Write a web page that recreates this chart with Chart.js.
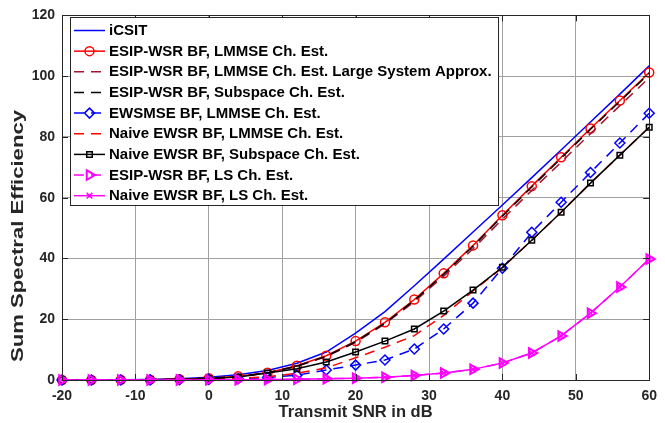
<!DOCTYPE html>
<html><head><meta charset="utf-8">
<script src="https://cdn.jsdelivr.net/npm/chart.js@4.4.0/dist/chart.umd.min.js"></script>
<style>html,body{margin:0;padding:0;background:#fff;}#wrap{width:665px;height:423px;}</style>
</head><body><div id="wrap"><canvas id="c" width="665" height="423"></canvas></div>
<script>
// ---- data ----
const snrDb = [-20,-16,-12,-8,-4,0,4,8,12,16,20,24,28,32,36,40,44,48,52,56,60];
const xTicks = [-20,-10,0,10,20,30,40,50,60];
const yTicks = [0,20,40,60,80,100,120];
const xTitle = 'Transmit SNR in dB';
const yTitle = 'Sum Spectral Efficiency';
const seriesNames = [
  'iCSIT',
  'ESIP-WSR BF, LMMSE Ch. Est.',
  'ESIP-WSR BF, LMMSE Ch. Est. Large System Approx.',
  'ESIP-WSR BF, Subspace Ch. Est.',
  'EWSMSE BF, LMMSE Ch. Est.',
  'Naive EWSR BF, LMMSE Ch. Est.',
  'Naive EWSR BF, Subspace Ch. Est.',
  'ESIP-WSR BF, LS Ch. Est.',
  'Naive EWSR BF, LS Ch. Est.'
];
const iCSIT        = [0.02,0.05,0.1,0.2,0.45,0.9,1.7,3.1,5.5,9.2,15.4,22.5,31.0,39.8,48.7,57.6,66.6,75.7,84.9,94.1,103.4];
const esipLmmse    = [0.01,0.02,0.05,0.12,0.28,0.6,1.2,2.4,4.7,8.0,12.8,19.0,26.5,35.1,44.3,54.2,63.8,73.3,82.8,92.0,101.2];
const esipLarge    = [0.01,0.02,0.05,0.12,0.27,0.58,1.15,2.3,4.5,7.7,12.4,18.5,25.8,34.2,43.2,52.9,62.4,71.7,81.1,90.3,99.5];
const esipSubspace = [0.01,0.02,0.05,0.12,0.27,0.58,1.15,2.35,4.6,7.8,12.6,18.7,26.2,34.8,44.0,53.9,63.5,73.0,82.5,91.7,100.9];
const ewsmse       = [0,0,0.01,0.03,0.08,0.2,0.4,0.8,1.6,3.3,4.9,6.6,10.2,16.8,25.3,36.8,48.6,58.5,68.3,78.0,87.8];
const naiveLmmse   = [0,0.01,0.03,0.07,0.15,0.3,0.55,1.1,2.2,4.0,7.3,10.8,14.6,21.3,29.3,37.0,46.0,55.2,64.8,74.0,83.2];
const naiveSubspace= [0,0.01,0.03,0.08,0.2,0.45,1.0,2.3,3.7,5.9,9.2,12.8,16.8,22.7,29.6,37.1,46.0,55.2,64.8,74.0,83.2];
const esipLs       = [0,0,0,0.01,0.02,0.04,0.08,0.15,0.25,0.4,0.6,0.9,1.5,2.3,3.5,5.6,8.9,14.5,22.0,30.6,39.8];
const naiveLs      = [0,0,0,0.01,0.02,0.04,0.08,0.15,0.25,0.4,0.6,0.9,1.5,2.3,3.5,5.6,8.9,14.5,22.0,30.6,39.8];

const FONT = '"Liberation Sans", Arial, Helvetica, sans-serif';
const TXT = '#262626';
const DASH = [10,7];

const styles = [
  {c:'#0000ff', dash:[], ps:false},
  {c:'#ff0000', dash:[], ps:'circle', r:4.5, bw:1.5},
  {c:'#a2142f', dash:DASH, ps:false},
  {c:'#000000', dash:DASH, ps:false},
  {c:'#0000ff', dash:DASH, ps:'rectRot', r:5, bw:1.5},
  {c:'#ff0000', dash:DASH, ps:false},
  {c:'#000000', dash:[], ps:'rect', r:3.9, bw:1.5},
  {c:'#ff00ff', dash:DASH, ps:'triangle', r:5.5, rot:90, bw:2},
  {c:'#ff00ff', dash:[], ps:'crossRot', r:4, bw:1.5}
];
const values = [iCSIT, esipLmmse, esipLarge, esipSubspace, ewsmse, naiveLmmse, naiveSubspace, esipLs, naiveLs];

const datasets = values.map((v,i)=>{
  const s = styles[i];
  return {
    label: seriesNames[i],
    data: snrDb.map((x,k)=>({x:x, y:v[k]})),
    borderColor: s.c,
    backgroundColor: 'rgba(0,0,0,0)',
    borderWidth: 1.5,
    borderDash: s.dash,
    pointStyle: s.ps || 'circle',
    pointRadius: s.ps ? s.r : 0,
    pointRotation: s.rot || 0,
    pointBorderColor: s.c,
    pointBackgroundColor: 'rgba(0,0,0,0)',
    pointBorderWidth: s.bw || 1.5,
    tension: 0,
    fill: false,
    clip: false,
    order: values.length - i
  };
});

function drawMarker(ctx, style, x, y, r, color, bw) {
  ctx.save();
  ctx.strokeStyle = color; ctx.lineWidth = bw; ctx.setLineDash([]);
  ctx.beginPath();
  if (style === 'circle') {
    ctx.arc(x, y, r, 0, Math.PI*2);
  } else if (style === 'rectRot') {
    ctx.moveTo(x, y-r); ctx.lineTo(x+r, y); ctx.lineTo(x, y+r); ctx.lineTo(x-r, y); ctx.closePath();
  } else if (style === 'rect') {
    const h = r*Math.SQRT1_2; ctx.rect(x-h, y-h, 2*h, 2*h);
  } else if (style === 'triangle') {
    const a = r; ctx.moveTo(x+a, y); ctx.lineTo(x - a*0.5, y - a*0.866); ctx.lineTo(x - a*0.5, y + a*0.866); ctx.closePath();
  } else if (style === 'crossRot') {
    const h = r*Math.SQRT1_2; ctx.moveTo(x-h,y-h); ctx.lineTo(x+h,y+h); ctx.moveTo(x+h,y-h); ctx.lineTo(x-h,y+h);
  }
  ctx.stroke();
  ctx.restore();
}

const frame = {
  id: 'frame',
  afterDraw(chart) {
    const {ctx, chartArea:a, scales} = chart;
    ctx.save();
    ctx.strokeStyle = TXT; ctx.lineWidth = 1; ctx.setLineDash([]);
    ctx.strokeRect(Math.round(a.left)+0.5, Math.round(a.top)+0.5, Math.round(a.right-a.left), Math.round(a.bottom-a.top));
    ctx.beginPath();
    xTicks.forEach(t=>{
      const px = Math.round(scales.x.getPixelForValue(t))+0.5;
      ctx.moveTo(px, a.bottom); ctx.lineTo(px, a.bottom-6);
      ctx.moveTo(px, a.top); ctx.lineTo(px, a.top+6);
    });
    yTicks.forEach(t=>{
      const py = Math.round(scales.y.getPixelForValue(t))+0.5;
      ctx.moveTo(a.left, py); ctx.lineTo(a.left+6, py);
      ctx.moveTo(a.right, py); ctx.lineTo(a.right-6, py);
    });
    ctx.stroke();
    // y-axis title (stretched along its length as in the reference)
    ctx.save();
    ctx.translate(19, 236);
    ctx.rotate(-Math.PI/2);
    ctx.font = 'bold 16px ' + FONT;
    const tw = ctx.measureText(yTitle).width;
    ctx.scale(252 / tw, 1);
    ctx.fillStyle = TXT; ctx.textAlign = 'center'; ctx.textBaseline = 'middle';
    ctx.fillText(yTitle, 0, 0);
    ctx.restore();
    // legend
    const x0=70, y0=17, w=428, h=188;
    ctx.fillStyle = '#ffffff'; ctx.fillRect(x0, y0, w, h);
    ctx.strokeStyle = TXT; ctx.lineWidth = 1;
    ctx.strokeRect(x0+0.5, y0+0.5, w, h);
    chart.data.datasets.forEach((ds,i)=>{
      const y = 30.5 + i*20.65;
      const s = styles[i];
      ctx.save();
      ctx.strokeStyle = s.c; ctx.lineWidth = 1.5; ctx.setLineDash(s.dash);
      ctx.beginPath(); ctx.moveTo(74, y); ctx.lineTo(105, y); ctx.stroke();
      ctx.restore();
      if (s.ps) drawMarker(ctx, s.ps, 89.5, y, s.r, s.c, s.bw);
      ctx.fillStyle = '#000000';
      ctx.font = 'bold 15px ' + FONT;
      ctx.textBaseline = 'middle'; ctx.textAlign = 'left';
      ctx.fillText(ds.label, 109, y+0.5);
    });
    ctx.restore();
  }
};

new Chart(document.getElementById('c'), {
  type: 'line',
  data: { datasets },
  options: {
    responsive: false, animation: false, devicePixelRatio: 1,
    layout: { padding: { top: 15, right: 15, left: 0, bottom: 0 } },
    plugins: { legend: { display: false }, tooltip: { enabled: false } },
    scales: {
      x: {
        type: 'linear', min: -20, max: 60,
        afterFit(s) { s.height = 43; },
        afterBuildTicks(s) { s.ticks = xTicks.map(v=>({value:v})); },
        ticks: { color: TXT, padding: 8, font: { family: FONT, size: 14, weight: 'bold' } },
        grid: { color: '#a0a0a0', lineWidth: 1, drawTicks: false },
        border: { display: true, color: TXT, width: 1 },
        title: { display: true, text: xTitle, color: TXT, padding: {top:0, bottom:1},
                 font: { family: FONT, size: 16.5, weight: 'bold' } }
      },
      y: {
        type: 'linear', min: 0, max: 120,
        afterFit(s) { s.width = 62; },
        afterBuildTicks(s) { s.ticks = yTicks.map(v=>({value:v})); },
        ticks: { color: TXT, padding: 7, font: { family: FONT, size: 14, weight: 'bold' } },
        grid: { color: '#a0a0a0', lineWidth: 1, drawTicks: false },
        border: { display: true, color: TXT, width: 1 },
        title: { display: false }
      }
    }
  },
  plugins: [frame]
});
</script></body></html>
